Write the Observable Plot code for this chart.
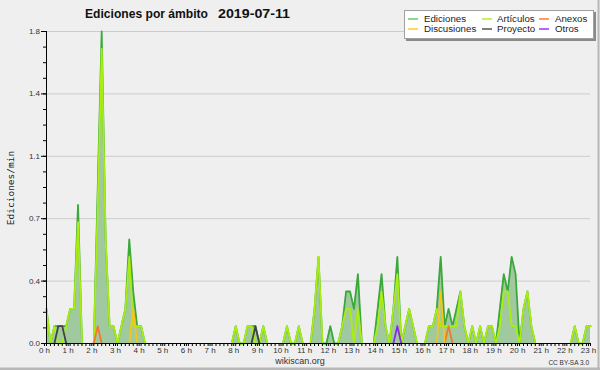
<!DOCTYPE html>
<html><head><meta charset="utf-8">
<script src="https://cdn.jsdelivr.net/npm/d3@7"></script>
<script src="https://cdn.jsdelivr.net/npm/@observablehq/plot@0.6"></script>
<style>
html,body{margin:0;padding:0;background:#efefef;}
#wrap{position:relative;width:600px;height:370px;background:#efefef;overflow:hidden;}
#wrap svg{position:absolute;left:0;top:0;}
</style></head><body><div id="wrap"></div>
<script>
// 10-minute samples, 00:00 .. 23:00 (edits per minute)
const ediciones = [
 0.2,0,0.1,0.1,0.1,0.1,  0.2,0.2,0.8,0,0,0,  0,0.9,1.8,0.6,0.1,0.1,  0,0.1,0.2,0.6,0.3,0.1,
 0.1,0,0,0,0,0,  0,0,0,0,0,0,  0,0,0,0,0,0,  0,0,0,0,0,0,
 0.1,0,0,0.1,0.1,0.1,  0,0.1,0,0,0,0,  0,0.1,0,0,0.1,0,  0,0,0.2,0.5,0,0,
 0.1,0,0,0.1,0.3,0.3,  0.2,0.4,0,0,0,0,  0.2,0.4,0.1,0,0.2,0.5,  0,0.1,0.2,0.1,0,0,
 0,0.1,0.1,0.2,0.5,0.1,  0.2,0.1,0.2,0.3,0.1,0,  0.1,0,0.1,0,0.1,0.1,  0,0.2,0.4,0.3,0.5,0.4,
 0,0.2,0.3,0.1,0,0,  0,0,0,0,0,0,  0,0,0.1,0,0,0.1,  0.1
];
const articulos = [
 0.2,0,0.1,0,0,0.1,  0.2,0.2,0.7,0,0,0,  0,0.8,1.7,0.6,0.1,0.1,  0,0.1,0.2,0.5,0.1,0.1,
 0.1,0,0,0,0,0,  0,0,0,0,0,0,  0,0,0,0,0,0,  0,0,0,0,0,0,
 0.1,0,0,0.1,0.1,0,  0,0.1,0,0,0,0,  0,0.1,0,0,0.1,0,  0,0,0.2,0.5,0,0,
 0,0,0,0.1,0.2,0.2,  0,0.2,0,0,0,0,  0.1,0.3,0.1,0,0.2,0.4,  0,0.1,0.2,0.1,0,0,
 0,0.1,0.1,0.2,0.1,0.1,  0.1,0.1,0.1,0.3,0.1,0,  0.1,0,0.1,0,0.1,0.1,  0,0.1,0.3,0.3,0.1,0.1,
 0,0.2,0.3,0.1,0,0,  0,0,0,0,0,0,  0,0,0.1,0,0,0.1,  0.1
];
const anexos = [
 0,0,0,0,0,0,  0,0,0,0,0,0,  0,0.1,0,0,0,0,  0,0,0,0,0,0,
 0,0,0,0,0,0,  0,0,0,0,0,0,  0,0,0,0,0,0,  0,0,0,0,0,0,
 0,0,0,0,0,0,  0,0,0,0,0,0,  0,0,0,0,0,0,  0,0,0,0,0,0,
 0,0,0,0,0,0,  0,0,0,0,0,0,  0,0,0,0,0,0,  0,0,0,0,0,0,
 0,0,0,0,0,0,  0.1,0,0,0,0,0,  0,0,0,0,0,0,  0,0,0,0,0,0,
 0,0,0,0,0,0,  0,0,0,0,0,0,  0,0,0,0,0,0,  0
];
const discusiones = [
 0,0,0,0,0,0,  0,0,0,0,0,0,  0,0,0,0,0,0,  0,0,0,0,0.2,0,
 0,0,0,0,0,0,  0,0,0,0,0,0,  0,0,0,0,0,0,  0,0,0,0,0,0,
 0,0,0,0,0,0,  0,0,0,0,0,0,  0,0,0,0,0,0,  0,0,0,0,0,0,
 0,0,0,0,0,0,  0,0,0,0,0,0,  0,0,0,0,0,0,  0,0,0,0,0,0,
 0,0,0,0,0.3,0,  0,0,0,0,0,0,  0,0,0,0,0,0,  0,0,0,0,0,0,
 0,0,0,0,0,0,  0,0,0,0,0,0,  0,0,0,0,0,0,  0
];
const proyecto = [
 0,0,0,0.1,0.1,0,  0,0,0,0,0,0,  0,0,0,0,0,0,  0,0,0,0,0,0,
 0,0,0,0,0,0,  0,0,0,0,0,0,  0,0,0,0,0,0,  0,0,0,0,0,0,
 0,0,0,0,0,0.1,  0,0,0,0,0,0,  0,0,0,0,0,0,  0,0,0,0,0,0,
 0,0,0,0,0,0,  0,0,0,0,0,0,  0,0,0,0,0,0,  0,0,0,0,0,0,
 0,0,0,0,0,0,  0,0,0,0,0,0,  0,0,0,0,0,0,  0,0,0,0,0,0,
 0,0,0,0,0,0,  0,0,0,0,0,0,  0,0,0,0,0,0,  0
];
const otros = [
 0,0,0,0,0,0,  0,0,0,0,0,0,  0,0,0,0,0,0,  0,0,0,0,0,0,
 0,0,0,0,0,0,  0,0,0,0,0,0,  0,0,0,0,0,0,  0,0,0,0,0,0,
 0,0,0,0,0,0,  0,0,0,0,0,0,  0,0,0,0,0,0,  0,0,0,0,0,0,
 0,0,0,0,0,0,  0,0,0,0,0,0,  0,0,0,0,0,0.1,  0,0,0,0,0,0,
 0,0,0,0,0,0,  0,0,0,0,0,0,  0,0,0,0,0,0,  0,0,0,0,0,0,
 0,0,0,0,0,0,  0,0,0,0,0,0,  0,0,0,0,0,0,  0
];
const hourTicks = d3.range(0, 24);
const yTicks = [0, 0.36, 0.72, 1.08, 1.44, 1.8];
const seriesNames = ["Ediciones","Artículos","Anexos","Discusiones","Proyecto","Otros"];
const seriesColors = ["#3aa83a","#aaee11","#f07830","#f5c518","#444444","#8a2be2"];
const legendColors = ["#66cc66","#bbee22","#ff7a3a","#ffcc22","#555555","#9933ff"];

// build table
const series = [ediciones, articulos, anexos, discusiones, proyecto, otros];
const gap = arr => arr.map((v,i) => (v === 0 && (arr[i-1] ?? 0) === 0 && (arr[i+1] ?? 0) === 0) ? NaN : v);
const rows = ediciones.map((v,i) => ({t: i/6, ed: v}));
const lineData = series.map(s => { const g = gap(s); return s.map((v,i) => ({t: i/6, v: g[i]})); });

const xMinor = d3.range(0, 139).map(i => i/6);
const yMinor = d3.range(0, 21).map(k => k*0.09);

const lineMarks = [1,2,3,4,5].map(k =>
  Plot.line(lineData[k], {x: "t", y: "v", stroke: seriesColors[k], strokeWidth: 1.8}));

const chart = Plot.plot({
  width: 600, height: 370,
  marginLeft: 46, marginRight: 10, marginTop: 31, marginBottom: 27,
  style: {background: "transparent", fontFamily: "Liberation Sans", fontSize: "8px", color: "#333"},
  x: {domain: [0, 23]},
  y: {domain: [0, 1.8]},
  marks: [
    Plot.ruleY(yTicks, {stroke: "#cccccc", strokeWidth: 1}),
    Plot.areaY(rows, {x: "t", y: "ed", fill: "#a0c9a0"}),
    Plot.line(lineData[0], {x: "t", y: "v", stroke: seriesColors[0], strokeWidth: 1.8}),
    ...lineMarks,
    Plot.ruleX([0], {stroke: "#000"}),
    Plot.ruleY([0], {stroke: "#000"}),
    Plot.axisY(yMinor, {tickSize: 3, tickFormat: () => "", label: null, stroke: "#000"}),
    Plot.axisY(yTicks, {tickSize: 5, tickPadding: 1.5, tickFormat: d => d.toFixed(1), label: null, stroke: "#000"}),
    Plot.axisX(xMinor, {tickSize: 3, tickFormat: () => "", label: null, stroke: "#000"}),
    Plot.axisX(hourTicks, {tickSize: 3, tickPadding: 1, tickFormat: d => d + " h", label: null, stroke: "#000", dx: -2})
  ]
});
const wrap = document.getElementById("wrap");
wrap.appendChild(chart);

// overlay: title, legend, labels
const ov = d3.select(wrap).append("svg").attr("width", 600).attr("height", 370);
ov.append("rect").attr("x", 597.5).attr("y", 0).attr("width", 2).attr("height", 370).attr("fill", "#b8b8b8");
ov.append("rect").attr("x", 0).attr("y", 367.5).attr("width", 600).attr("height", 2.5).attr("fill", "#b8b8b8");
ov.append("text").attr("x", 85).attr("y", 18).attr("font-family", "Liberation Sans").attr("font-weight", "bold")
  .attr("font-size", 12.5).attr("fill", "#111").attr("textLength", 123).attr("lengthAdjust", "spacingAndGlyphs").text("Ediciones por ámbito");
ov.append("text").attr("x", 218).attr("y", 18).attr("font-family", "Liberation Sans").attr("font-weight", "bold")
  .attr("font-size", 12.5).attr("fill", "#111").attr("textLength", 72).attr("lengthAdjust", "spacingAndGlyphs").text("2019-07-11");
ov.append("text").attr("transform", "translate(13.5,188) rotate(-90)").attr("text-anchor", "middle")
  .attr("font-family", "DejaVu Sans Mono").attr("font-size", 9.5).attr("fill", "#222").text("Ediciones/min");
ov.append("text").attr("x", 300).attr("y", 364).attr("text-anchor", "middle")
  .attr("font-family", "Liberation Sans").attr("font-size", 9).attr("fill", "#333").text("wikiscan.org");
ov.append("text").attr("x", 589).attr("y", 365).attr("text-anchor", "end")
  .attr("font-family", "Liberation Sans").attr("font-size", 6.5).attr("fill", "#333").text("CC BY-SA 3.0");
// legend
ov.append("rect").attr("x", 406).attr("y", 12).attr("width", 190).attr("height", 29).attr("fill", "#8a8a8a");
ov.append("rect").attr("x", 404.5).attr("y", 10.5).attr("width", 189).attr("height", 28).attr("fill", "#fff").attr("stroke", "#a0a0a0");
const colX = [408, 482, 539];
const textX = [424, 497, 555];
const order = [0, 1, 2, 3, 4, 5];
order.forEach((k, j) => {
  const c = j % 3, r = Math.floor(j / 3);
  const yy = r === 0 ? 19 : 29;
  ov.append("line").attr("x1", colX[c]).attr("x2", colX[c] + 10).attr("y1", yy).attr("y2", yy)
    .attr("stroke", legendColors[k]).attr("stroke-width", 1.5);
  ov.append("text").attr("x", textX[c]).attr("y", yy + 3.3).attr("font-family", "Liberation Sans")
    .attr("font-size", 9.7).attr("fill", "#222").text(seriesNames[k]);
});
</script></body></html>
